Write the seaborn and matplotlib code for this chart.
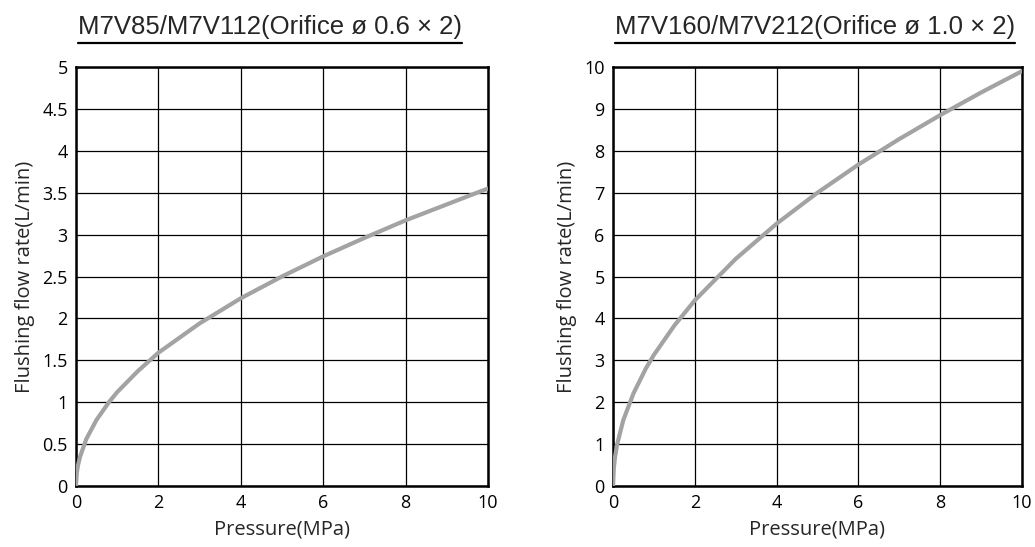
import matplotlib
matplotlib.use("Agg")
import matplotlib.pyplot as plt
from matplotlib.lines import Line2D
import seaborn as sns
import pandas as pd

# ── data ──────────────────────────────────────────────────────
pressure = [0, 0.02, 0.05, 0.1, 0.25, 0.5, 0.8, 1, 1.5, 2, 3, 4, 5, 6, 7, 8, 9, 10]
flow_small = [0, 0.16, 0.25, 0.35, 0.56, 0.79, 1.0, 1.12, 1.37, 1.59, 1.94, 2.24,
              2.5, 2.74, 2.96, 3.17, 3.36, 3.55]
flow_large = [0, 0.44, 0.70, 0.99, 1.57, 2.21, 2.8, 3.13, 3.83, 4.43, 5.42, 6.26,
              7.0, 7.67, 8.28, 8.85, 9.39, 9.9]

titles = ["M7V85/M7V112(Orifice \u00f8 0.6 \u00d7 2)",
          "M7V160/M7V212(Orifice \u00f8 1.0 \u00d7 2)"]
x_ticks = [0, 2, 4, 6, 8, 10]
y_ticks_small = [0, 0.5, 1, 1.5, 2, 2.5, 3, 3.5, 4, 4.5, 5]
y_ticks_large = list(range(0, 11))

sns.set_style("white")
plt.rcParams["font.family"] = ["Open Sans", "DejaVu Sans"]

fig = plt.figure(figsize=(10.35, 5.47), dpi=100)
ax1 = fig.add_axes([0.0734, 0.1115, 0.398, 0.766])
ax2 = fig.add_axes([0.5923, 0.1115, 0.395, 0.766])

panels = [
    (ax1, flow_small, y_ticks_small, titles[0]),
    (ax2, flow_large, y_ticks_large, titles[1]),
]

for ax, flow, yt, title in panels:
    df = pd.DataFrame({"Pressure": pressure, "Flow": flow})
    sns.lineplot(data=df, x="Pressure", y="Flow", ax=ax, color="#a3a3a3",
                 linewidth=3, zorder=3)
    ax.set_xlim(0, 10)
    ax.set_ylim(yt[0], yt[-1])
    ax.set_xticks(x_ticks)
    ax.set_yticks(yt)
    ax.set_yticklabels([f"{v:g}" for v in yt])
    ax.grid(True, color="black", linewidth=0.9)
    ax.set_axisbelow(True)
    for s in ax.spines.values():
        s.set_color("black")
        s.set_linewidth(1.8)
    ax.tick_params(length=0, labelsize=13, pad=6, colors="black")
    ax.set_xlabel("Pressure(MPa)", fontsize=14.5, labelpad=5)
    ax.set_ylabel("Flushing flow rate(L/min)", fontsize=14.5, labelpad=5)

    # underlined title above the panel
    pos = ax.get_position()
    t = fig.text(pos.x0 + 0.002, 0.928, title, fontsize=18.5,
                 family=["Liberation Sans", "DejaVu Sans"], va="bottom", ha="left")
    fig.canvas.draw()
    bb = t.get_window_extent().transformed(fig.transFigure.inverted())
    fig.add_artist(Line2D([bb.x0, bb.x1], [0.921, 0.921], color="black",
                          linewidth=1.6, transform=fig.transFigure))

fig.savefig("out.png", dpi=100)
